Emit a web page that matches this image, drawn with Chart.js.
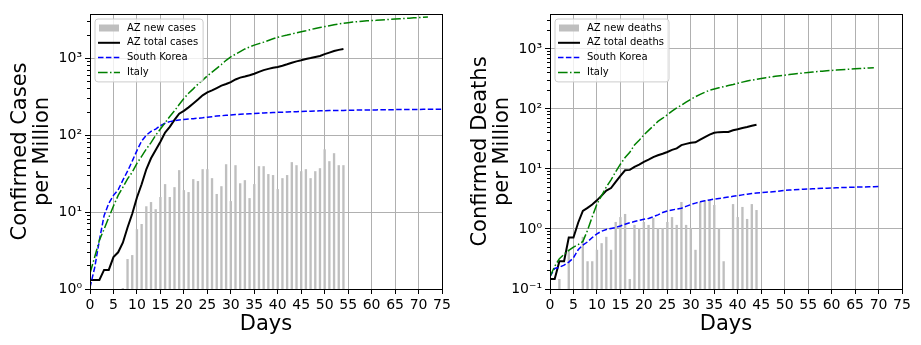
<!DOCTYPE html>
<html><head><meta charset="utf-8">
<script src="https://cdn.jsdelivr.net/npm/chart.js@4.4.0/dist/chart.umd.min.js"></script>
<style>
html,body{margin:0;padding:0;background:#fff;width:921px;height:345px;overflow:hidden}
.wrap{position:absolute;top:0;height:345px}
#w1{left:0;width:460px}
#w2{left:460px;width:461px}
canvas{display:block}
</style></head><body>
<div class="wrap" id="w1"><canvas id="c1" width="460" height="345"></canvas></div>
<div class="wrap" id="w2"><canvas id="c2" width="461" height="345"></canvas></div>
<script>
// ---- tick labels ----
const dayTicks = [0,5,10,15,20,25,30,35,40,45,50,55,60,65,70,75];
const caseTickLabels = ['10⁰','10¹','10²','10³'];
const deathTickLabels = ['10⁻¹','10⁰','10¹','10²','10³'];

// ---- cases per million (index = day) ----
const azNewCases = [null,null,null,null,null,null,null,1.03,2.45,2.76,6.0,7.0,11.9,13.5,10.9,15.7,23.1,15.7,21.1,35.1,19.3,18.2,26.8,25.3,36.1,36.1,27.6,17.2,21.7,41.9,13.9,40.7,23.7,26.0,15.2,23.1,39.5,39.5,31.2,30.3,19.9,27.6,30.3,44.6,40.7,34.0,36.1,27.6,34.0,37.2,65.5,45.9,58.3,40.7,40.7];
const azTotalCases = [1.31,1.31,1.31,1.77,1.77,2.6,3.0,4.0,6.3,9.5,15.5,23,36,50,64,82,108,128,158,190,207,230,258,290,330,360,382,410,440,462,490,530,560,578,600,628,665,700,728,750,770,800,835,875,910,940,975,1005,1040,1070,1130,1185,1240,1285,1320];
const koreaCases = [1.05,1.9,4.3,9,13,16.5,19.5,26,34,46,63,84,100,112,120,133,143,150,154,157,160,162,164,166,168,171,174,177,179,181,183,185,187,188,190,191,193,194,196,197,198,199,200,201,202,203,204,205,206,207,208,209,209,210,210,211,211,212,212,213,213,213,214,214,214,215,215,215,216,216,216,217,217,217,218,218];
const italyCases = [1.6,2.6,4.3,6.0,8.5,12,16.5,21,27,33,43,53,66,80,100,120,145,175,207,250,300,350,400,460,520,590,660,740,830,940,1040,1130,1220,1320,1400,1480,1550,1620,1700,1790,1870,1940,2000,2070,2140,2210,2280,2360,2440,2510,2580,2650,2720,2790,2850,2900,2950,2990,3030,3070,3090,3110,3140,3170,3200,3230,3260,3290,3320,3350,3380,3410,3440];

// ---- deaths per million (index = day) ----
const azNewDeaths = [null,null,0.147,null,0.45,null,null,0.74,0.29,0.29,0.45,0.58,0.74,0.45,1.31,1.58,1.78,0.147,1.17,1.04,1.31,1.17,1.53,1.04,1.04,1.31,1.58,1.17,2.82,1.17,1.04,0.45,2.82,3.04,3.04,2.51,1.04,0.29,null,2.6,1.58,2.33,1.47,2.6,2.07];
const azTotalDeaths = [0.147,0.147,0.29,0.29,0.72,0.72,1.27,2.0,2.25,2.55,3.0,3.6,4.35,4.8,6.1,7.7,9.5,9.65,10.8,11.8,13.1,14.3,15.8,16.9,17.9,19.2,20.8,22.0,25.0,26.2,27.3,27.8,30.8,34.0,37.3,40.0,41.1,41.4,41.4,44.2,45.9,48.3,49.9,52.6,54.7];
const koreaDeaths = [0.16,0.22,0.23,0.25,0.28,0.33,0.45,0.54,0.61,0.72,0.83,0.92,0.98,1.02,1.06,1.12,1.2,1.27,1.33,1.39,1.45,1.5,1.6,1.72,1.88,2.0,2.07,2.15,2.22,2.38,2.55,2.7,2.85,2.95,3.05,3.15,3.22,3.3,3.4,3.5,3.6,3.7,3.8,3.9,3.97,4.03,4.1,4.15,4.22,4.3,4.38,4.45,4.5,4.55,4.6,4.64,4.68,4.72,4.76,4.79,4.82,4.86,4.89,4.92,4.95,4.98,5.0,5.02,5.04,5.06,5.08];
const italyDeaths = [0.16,0.24,0.32,0.38,0.44,0.5,0.55,0.62,0.95,1.6,2.6,3.6,5.0,6.6,9,12,15.5,19,25,30,37,44,52,62,70,80,92,104,115,130,145,160,175,190,205,215,225,235,245,255,268,280,292,302,312,322,332,340,350,358,366,374,382,390,398,406,413,420,426,432,438,444,450,456,462,467,472,477,482,486];

const FONT = 'DejaVu Sans';
const isDecade = v => v > 0 && Math.abs(Math.log10(v) - Math.round(Math.log10(v))) < 1e-6;
const signif = v => v / Math.pow(10, Math.floor(Math.log10(v) + 1e-9));
const toXY = arr => arr.map((v, i) => (v === null ? null : {x: i, y: v})).filter(p => p);

const framePlugin = {
  id: 'mplFrame',
  afterDraw(chart) {
    const {ctx, chartArea: a} = chart;
    const ys = chart.scales.y;
    ctx.save();
    ctx.strokeStyle = '#000';
    ctx.lineWidth = 1;
    ys.ticks.forEach(t => {
      const v = t.value;
      if (isDecade(v)) return;
      const s = signif(v);
      if (Math.abs(s - Math.round(s)) > 1e-6) return;
      const p = Math.round(ys.getPixelForValue(v) - 0.5) + 0.5;
      ctx.beginPath(); ctx.moveTo(a.left - 3, p); ctx.lineTo(a.left, p); ctx.stroke();
    });
    ctx.strokeRect(a.left + 0.5, a.top + 0.5, a.right - a.left, a.bottom - a.top);
    ctx.restore();
  }
};

const legendPlugin = {
  id: 'mplLegend',
  afterDatasetsDraw(chart, args, opts) {
    const {ctx, chartArea: a} = chart;
    const ds = chart.data.datasets;
    const order = opts.order;
    ctx.save();
    ctx.font = '10px "' + FONT + '"';
    const maxW = Math.max(...order.map(i => ctx.measureText(ds[i].label).width));
    const x0 = a.left + 5, y0 = a.top + 5;
    const rowH = 14.8;
    const w = 32 + maxW + 5, h = 9 + rowH * (order.length - 1) + 9.5;
    const r = 3;
    ctx.beginPath();
    ctx.moveTo(x0 + r, y0);
    ctx.lineTo(x0 + w - r, y0); ctx.arcTo(x0 + w, y0, x0 + w, y0 + r, r);
    ctx.lineTo(x0 + w, y0 + h - r); ctx.arcTo(x0 + w, y0 + h, x0 + w - r, y0 + h, r);
    ctx.lineTo(x0 + r, y0 + h); ctx.arcTo(x0, y0 + h, x0, y0 + h - r, r);
    ctx.lineTo(x0, y0 + r); ctx.arcTo(x0, y0, x0 + r, y0, r);
    ctx.closePath();
    ctx.fillStyle = 'rgba(255,255,255,0.8)';
    ctx.fill();
    ctx.strokeStyle = '#cccccc';
    ctx.lineWidth = 1;
    ctx.stroke();
    order.forEach((i, k) => {
      const d = ds[i];
      const cy = y0 + 9 + k * rowH;
      if (d.type === 'bar') {
        ctx.fillStyle = d.backgroundColor;
        ctx.fillRect(x0 + 4, cy - 3.5, 20, 7);
      } else {
        ctx.strokeStyle = d.borderColor;
        ctx.lineWidth = d.borderWidth;
        ctx.setLineDash(d.borderDash || []);
        ctx.beginPath(); ctx.moveTo(x0 + 3, cy); ctx.lineTo(x0 + 25, cy); ctx.stroke();
        ctx.setLineDash([]);
      }
      ctx.fillStyle = '#000';
      ctx.textBaseline = 'middle';
      ctx.textAlign = 'left';
      ctx.fillText(d.label, x0 + 32, cy);
    });
    ctx.restore();
  }
};

function buildChart(canvasId, cfg) {
  const minExp = Math.round(Math.log10(cfg.yMin));
  return new Chart(document.getElementById(canvasId), {
    type: 'line',
    data: {
      datasets: [
        {type: 'bar', label: cfg.labels[0], data: toXY(cfg.bars), backgroundColor: '#bfbfbf', borderWidth: 0,
         categoryPercentage: 1, barPercentage: 0.5, order: 3},
        {type: 'line', label: cfg.labels[1], data: toXY(cfg.total), borderColor: '#000000', borderWidth: 2,
         pointRadius: 0, tension: 0, fill: false, order: 2},
        {type: 'line', label: cfg.labels[2], data: toXY(cfg.korea), borderColor: '#0000ff', borderWidth: 1.5,
         borderDash: [5.5, 2.4], pointRadius: 0, tension: 0, fill: false, order: 1},
        {type: 'line', label: cfg.labels[3], data: toXY(cfg.italy), borderColor: '#008000', borderWidth: 1.5,
         borderDash: [9.6, 2.4, 1.5, 2.4], pointRadius: 0, tension: 0, fill: false, order: 0}
      ]
    },
    options: {
      responsive: false,
      animation: false,
      devicePixelRatio: 1,
      layout: {padding: {left: 0, right: cfg.padRight, top: 14, bottom: 0}},
      plugins: {
        legend: {display: false},
        tooltip: {enabled: false},
        mplLegend: {order: [0, 1, 2, 3]}
      },
      scales: {
        x: {
          type: 'linear', min: 0, max: 75, offset: false,
          afterFit: s => { s.height = 56; },
          afterBuildTicks: s => { s.ticks = dayTicks.map(v => ({value: v})); },
          border: {display: false},
          grid: {offset: false, color: '#b0b0b0', lineWidth: 1, drawTicks: true, tickLength: 5, tickColor: '#000', tickWidth: 1},
          ticks: {color: '#000', font: {family: FONT, size: 14}, padding: 3, maxRotation: 0, autoSkip: false,
                  callback: v => String(v)},
          title: {display: true, text: 'Days', color: '#000', font: {family: FONT, size: 21, lineHeight: 1},
                  padding: {top: 0, bottom: 9.5}}
        },
        y: {
          type: 'logarithmic', min: cfg.yMin, max: cfg.yMax,
          afterFit: s => { s.width = 90; },
          border: {display: false},
          grid: {
            color: c => (c.tick && isDecade(c.tick.value)) ? '#b0b0b0' : 'rgba(0,0,0,0)',
            lineWidth: 1, drawTicks: true, tickLength: 5, tickWidth: 1,
            tickColor: c => (c.tick && isDecade(c.tick.value)) ? '#000' : 'rgba(0,0,0,0)'
          },
          ticks: {color: '#000', font: {family: FONT, size: 14}, padding: 3, autoSkip: false,
                  callback: v => isDecade(v) ? cfg.tickLabels[Math.round(Math.log10(v)) - minExp] : ''},
          title: {display: true, text: cfg.yTitle, color: '#000', font: {family: FONT, size: 21, lineHeight: 1.05},
                  padding: {top: 9.5, bottom: 0}}
        }
      }
    },
    plugins: [framePlugin, legendPlugin]
  });
}

buildChart('c1', {
  bars: azNewCases, total: azTotalCases, korea: koreaCases, italy: italyCases,
  labels: ['AZ new cases', 'AZ total cases', 'South Korea', 'Italy'],
  yMin: 1, yMax: 3760, tickLabels: caseTickLabels,
  yTitle: ['Confirmed Cases', 'per Million'], padRight: 18
});
buildChart('c2', {
  bars: azNewDeaths, total: azTotalDeaths, korea: koreaDeaths, italy: italyDeaths,
  labels: ['AZ new deaths', 'AZ total deaths', 'South Korea', 'Italy'],
  yMin: 0.1, yMax: 3820, tickLabels: deathTickLabels,
  yTitle: ['Confirmed Deaths', 'per Million'], padRight: 19
});
</script>
</body></html>
